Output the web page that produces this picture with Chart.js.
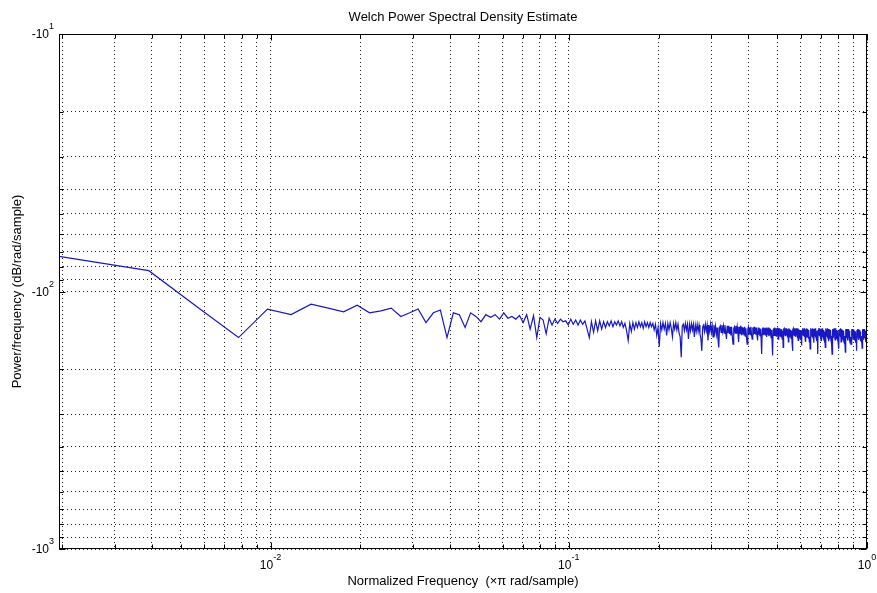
<!DOCTYPE html>
<html>
<head>
<meta charset="utf-8">
<title>Welch Power Spectral Density Estimate</title>
<script src="https://cdn.jsdelivr.net/npm/chart.js@4.4.1/dist/chart.umd.min.js"></script>
<style>
    html, body { margin: 0; padding: 0; background: #fff; }
    #wrap { width: 877px; height: 593px; position: relative; }
</style>
</head>
<body>
<div id="wrap"><canvas id="psdChart"></canvas></div>
<script>
// Welch estimate, bins at k/512 (x pi rad/sample), k = 1..512
const binCount = 512;
const chartTitle = 'Welch Power Spectral Density Estimate';

// PSD in dB/rad/sample, one value per bin
const psdDb = [
    -73, -83, -118, -151, -117, -123, -112, -116, -120, -113,   // 1-10
    -121, -119, -116, -125, -121, -117, -132, -121, -118, -151, // 11-20
    -121, -123, -138, -121, -125, -131, -123, -126, -123, -128, // 21-30
    -121, -127, -125, -128, -124, -132, -123, -140, -124, -151, // 31-40
    -126, -129, -146, -127, -135, -128, -133, -128, -131, -130, // 41-50
    -135, -128, -134, -129, -135, -129, -134, -130, -140, -151, // 51-60
    -131, -144, -130, -142, -130, -140, -131, -138, -131, -136, // 61-70
    -130, -137, -131, -135, -130, -136, -131, -138, -133, -142, // 71-80
    -155, -133, -143, -132, -140, -132, -138, -131, -137, -132, // 81-90
    -139, -131, -137, -132, -138, -132, -137, -133, -141, -134, // 91-100
    -148, -138, -164, -133, -141, -132, -140, -133, -148, -133, // 101-110
    -141, -132, -139, -150, -133, -140, -132, -141, -134, -145, // 111-120
    -150, -180, -136, -134, -142, -133, -141, -134, -153, -134, // 121-130
    -142, -133, -141, -134, -150, -135, -143, -134, -143, -135, // 131-140
    -146, -152, -170, -137, -135, -143, -134, -142, -135, -155, // 141-150
    -135, -143, -134, -144, -136, -150, -135, -144, -136, -147, // 151-160
    -138, -153, -165, -138, -136, -144, -135, -143, -136, -145, // 161-170
    -135, -144, -153, -136, -145, -136, -146, -137, -148, -137, // 171-180
    -150, -160, -139, -137, -145, -136, -146, -137, -145, -157, // 181-190
    -137, -146, -136, -147, -137, -146, -138, -148, -137, -149, // 191-200
    -139, -152, -160, -140, -137, -146, -138, -147, -137, -148, // 201-210
    -153, -138, -147, -137, -146, -138, -147, -138, -148, -155, // 211-220
    -138, -147, -139, -149, -140, -152, -175, -140, -138, -147, // 221-230
    -138, -147, -139, -148, -138, -150, -139, -147, -138, -149, // 231-240
    -139, -148, -140, -151, -141, -156, -177, -141, -139, -148, // 241-250
    -138, -148, -139, -149, -139, -147, -138, -153, -139, -148, // 251-260
    -139, -149, -140, -150, -140, -153, -142, -165, -140, -139, // 261-270
    -148, -139, -149, -140, -148, -139, -150, -140, -157, -139, // 271-280
    -149, -140, -150, -141, -152, -142, -158, -170, -141, -139, // 281-290
    -148, -139, -149, -140, -150, -139, -148, -140, -151, -139, // 291-300
    -155, -140, -149, -141, -151, -142, -154, -148, -162, -141, // 301-310
    -139, -148, -140, -149, -139, -150, -140, -156, -140, -149, // 311-320
    -139, -150, -140, -151, -141, -153, -142, -157, -150, -167, // 321-330
    -141, -139, -149, -140, -148, -139, -150, -140, -149, -158, // 331-340
    -140, -149, -139, -151, -141, -152, -142, -156, -149, -175, // 341-350
    -141, -139, -148, -140, -149, -139, -150, -140, -155, -140, // 351-360
    -149, -139, -150, -140, -151, -141, -153, -143, -158, -148, // 361-370
    -165, -141, -139, -149, -140, -148, -139, -150, -140, -156, // 371-380
    -140, -149, -140, -151, -141, -152, -142, -155, -149, -160, // 381-390
    -175, -141, -140, -149, -140, -150, -139, -149, -140, -154, // 391-400
    -140, -150, -139, -151, -141, -152, -142, -156, -148, -159, // 401-410
    -150, -167, -141, -140, -149, -140, -150, -139, -157, -140, // 411-420
    -149, -140, -150, -141, -152, -142, -154, -144, -158, -149, // 421-430
    -160, -151, -172, -141, -140, -149, -140, -150, -140, -155, // 431-440
    -140, -150, -140, -151, -141, -153, -142, -156, -149, -157, // 441-450
    -150, -152, -160, -141, -140, -149, -140, -150, -141, -153, // 451-460
    -140, -150, -141, -152, -142, -155, -143, -157, -149, -158, // 461-470
    -150, -152, -170, -141, -140, -149, -140, -150, -141, -154, // 471-480
    -140, -150, -141, -151, -142, -153, -143, -156, -149, -158, // 481-490
    -150, -152, -166, -142, -140, -149, -140, -150, -141, -154, // 491-500
    -140, -150, -141, -152, -142, -154, -143, -157, -149, -159, // 501-510
    -152, -171                                                  // 511-512
];

// grid / tick positions (MATLAB log grid: 1..9 x 10^n)
const xGridTicks = [
    0.002, 0.003, 0.004, 0.005, 0.006, 0.007, 0.008, 0.009,
    0.01, 0.02, 0.03, 0.04, 0.05, 0.06, 0.07, 0.08, 0.09,
    0.1, 0.2, 0.3, 0.4, 0.5, 0.6, 0.7, 0.8, 0.9, 1
];
const yGridTicks = [
    10, 20, 30, 40, 50, 60, 70, 80, 90,
    100, 200, 300, 400, 500, 600, 700, 800, 900, 1000
];
// labelled decades
const xLabelValues = [0.01, 0.1, 1];
const xLabelExps = ['-2', '-1', '0'];
const yLabelValues = [10, 100, 1000];
const yLabelExps = ['1', '2', '3'];

const fontFamily = '"Liberation Sans", Arial, Helvetica, sans-serif';
Chart.defaults.font.family = fontFamily;
Chart.defaults.color = '#000';

// y axis shows -10^n with magnitude growing downwards -> plot |dB| on a reversed log scale
const points = psdDb.map((db, i) => ({ x: (i + 1) / binCount, y: -db }));

// title over the axes, box, inward tick marks and 10^n labels like MATLAB
const matlabAxes = {
    id: 'matlabAxes',
    afterDraw(chart) {
        const { ctx, chartArea: area, scales } = chart;
        const left = Math.round(area.left) + 0.5;
        const right = Math.round(area.right) - 0.5;
        const top = Math.round(area.top) + 0.5;
        const bottom = Math.round(area.bottom) - 0.5;

        ctx.save();
        ctx.fillStyle = '#000';
        ctx.font = '13px ' + fontFamily;
        ctx.textAlign = 'center';
        ctx.textBaseline = 'middle';
        ctx.fillText(chartTitle, (area.left + area.right) / 2, 17);

        ctx.strokeStyle = '#000';
        ctx.lineWidth = 1;
        ctx.strokeRect(left, top, right - left, bottom - top);

        ctx.beginPath();
        xGridTicks.forEach(v => {
            const px = Math.round(scales.x.getPixelForValue(v)) + 0.5;
            const len = xLabelValues.includes(v) ? 6 : 4;
            ctx.moveTo(px, bottom); ctx.lineTo(px, bottom - len);
            ctx.moveTo(px, top); ctx.lineTo(px, top + len);
        });
        yGridTicks.forEach(v => {
            const py = Math.round(scales.y.getPixelForValue(v)) + 0.5;
            const len = yLabelValues.includes(v) ? 6 : 4;
            ctx.moveTo(left, py); ctx.lineTo(left + len, py);
            ctx.moveTo(right, py); ctx.lineTo(right - len, py);
        });
        ctx.stroke();

        const baseFont = '12px ' + fontFamily;
        const expFont = '9px ' + fontFamily;

        // y labels: -10^n, right aligned to the axis
        yLabelValues.forEach((v, i) => {
            const py = scales.y.getPixelForValue(v);
            ctx.font = expFont;
            const ew = ctx.measureText(yLabelExps[i]).width;
            ctx.textAlign = 'left';
            ctx.fillText(yLabelExps[i], area.left - 5 - ew, py - 7);
            ctx.font = baseFont;
            ctx.textAlign = 'right';
            ctx.fillText('-10', area.left - 5 - ew, py + 1);
        });

        // x labels: 10^n centred under the tick
        xLabelValues.forEach((v, i) => {
            const px = scales.x.getPixelForValue(v);
            ctx.font = baseFont;
            const bw = ctx.measureText('10').width;
            ctx.font = expFont;
            const ew = ctx.measureText(xLabelExps[i]).width;
            const start = px - (bw + ew) / 2;
            ctx.textAlign = 'left';
            ctx.font = baseFont;
            ctx.fillText('10', start, 566);
            ctx.font = expFont;
            ctx.fillText(xLabelExps[i], start + bw, 558);
        });
        ctx.restore();
    }
};

new Chart(document.getElementById('psdChart'), {
    type: 'line',
    data: {
        datasets: [{
            data: points,
            borderColor: '#1818c4',
            borderWidth: 1.2,
            pointRadius: 0,
            tension: 0,
            fill: false
        }]
    },
    options: {
        responsive: true,
        maintainAspectRatio: false,
        animation: false,
        layout: { padding: { top: 34, right: 10, bottom: 0, left: 0 } },
        plugins: {
            legend: { display: false },
            tooltip: { enabled: false },
            title: { display: false }
        },
        scales: {
            x: {
                type: 'logarithmic',
                min: 1 / binCount,
                max: 1,
                afterBuildTicks: s => { s.ticks = xGridTicks.map(v => ({ value: v })); },
                afterFit: s => { s.height = 44; },
                ticks: { display: false, autoSkip: false },
                grid: { color: '#222', lineWidth: 1, drawTicks: false },
                border: { display: false, dash: [1, 3] },
                title: {
                    display: true,
                    text: 'Normalized Frequency  (\u00d7\u03c0 rad/sample)',
                    font: { size: 13 },
                    padding: { top: 0, bottom: 4 }
                }
            },
            y: {
                type: 'logarithmic',
                reverse: true,
                min: 10,
                max: 1000,
                afterBuildTicks: s => { s.ticks = yGridTicks.map(v => ({ value: v })); },
                afterFit: s => { s.width = 59; },
                ticks: { display: false, autoSkip: false },
                grid: { color: '#222', lineWidth: 1, drawTicks: false },
                border: { display: false, dash: [1, 3] },
                title: {
                    display: true,
                    text: 'Power/frequency (dB/rad/sample)',
                    font: { size: 13 },
                    padding: { top: 10, bottom: 0 }
                }
            }
        }
    },
    plugins: [matlabAxes]
});
</script>
</body>
</html>
